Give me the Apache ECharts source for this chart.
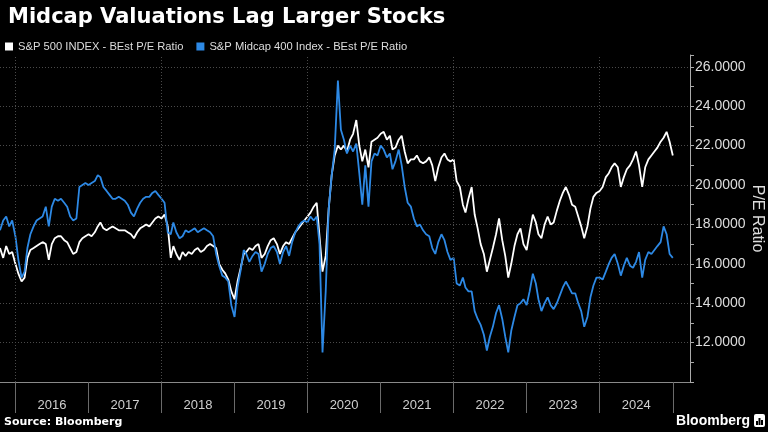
<!DOCTYPE html>
<html><head><meta charset="utf-8">
<script src="https://cdn.jsdelivr.net/npm/echarts@6/dist/echarts.min.js"></script>
<style>html,body{margin:0;padding:0;background:#000;}#c{width:768px;height:432px;}</style>
</head><body><div id="c"></div>
<script>
const chartTitle = 'Midcap Valuations Lag Larger Stocks';
const seriesNames = ['S&P 500 INDEX - BEst P/E Ratio', 'S&P Midcap 400 Index - BEst P/E Ratio'];
const yAxisName = 'P/E Ratio';
const sourceText = 'Source: Bloomberg';

// semi-monthly sampling dates (1st and 16th), Oct 16 2015 .. Jan 1 2025
const dates = [];
for (let y = 2015; y <= 2025; y++) {
  for (let m = 1; m <= 12; m++) {
    for (const d of ['01', '16']) {
      const s = y + '-' + String(m).padStart(2, '0') + '-' + d;
      if (s >= '2015-10-16' && s <= '2025-01-01') dates.push(s);
    }
  }
}

const spx = [
16.8,16.3,16.9,16.5,16.6,16.0,15.5,15.1,15.3,16.3,
16.7,16.8,16.9,17.0,17.1,17.0,16.2,17.0,17.3,17.4,
17.4,17.2,17.1,16.8,16.5,16.6,17.1,17.3,17.4,17.5,
17.4,17.6,17.9,18.1,17.8,17.7,17.8,17.9,17.8,17.7,
17.7,17.7,17.6,17.5,17.3,17.6,17.8,17.9,18.0,17.9,
18.1,18.3,18.4,18.3,18.5,17.9,16.3,16.9,16.5,16.2,
16.6,16.4,16.6,16.5,16.7,16.8,16.6,16.7,16.9,17.0,
16.9,16.8,16.0,15.7,15.5,15.2,14.6,14.2,15.1,15.8,
16.5,16.6,16.8,16.7,16.9,17.0,16.3,16.5,16.9,17.2,
17.3,17.0,16.5,16.9,17.1,17.0,17.3,17.6,17.8,18.0,
18.2,18.4,18.6,18.9,19.1,17.4,15.6,16.4,18.8,20.5,
21.5,22.0,21.8,22.0,21.7,22.3,22.6,23.3,22.0,21.2,
21.8,20.9,22.2,22.3,22.4,22.6,22.7,22.3,22.5,21.8,
21.9,22.3,22.5,21.7,21.1,21.3,21.3,21.5,21.2,21.1,
21.2,21.4,21.0,20.2,20.9,21.4,21.6,21.3,21.2,21.3,
20.2,19.9,19.0,18.6,19.3,19.9,18.5,17.8,17.0,16.5,
15.6,16.2,16.8,17.5,18.3,17.2,16.4,15.3,16.0,16.9,
17.5,17.8,17.0,16.7,17.6,18.5,18.1,17.5,17.3,18.0,
18.4,18.0,18.1,18.7,19.2,19.6,19.9,19.5,19.0,18.9,
18.4,17.9,17.3,17.9,18.8,19.4,19.6,19.7,19.9,20.4,
20.6,20.9,21.1,20.9,19.9,20.4,20.8,21.0,21.3,21.7,
21.0,19.9,20.9,21.3,21.5,21.7,21.9,22.2,22.4,22.7,
22.2,21.5
];

const mid = [
17.7,18.2,18.4,17.9,18.2,17.4,16.2,15.3,15.6,16.8,
17.5,17.9,18.2,18.3,18.4,18.9,17.9,18.9,19.3,19.2,
19.3,19.1,18.9,18.4,18.2,18.3,19.9,20.0,20.1,20.0,
20.1,20.2,20.5,20.4,19.9,19.7,19.5,19.3,19.3,19.4,
19.3,19.2,19.0,18.6,18.4,18.8,19.1,19.3,19.4,19.4,
19.6,19.7,19.5,19.3,19.1,17.6,17.5,18.1,17.6,17.3,
17.4,17.7,17.6,17.7,17.8,17.6,17.7,17.8,17.7,17.6,
17.4,16.5,15.9,15.4,15.3,15.1,13.9,13.3,14.8,15.7,
16.7,16.5,16.1,16.4,16.6,16.5,15.6,16.0,16.5,16.8,
16.9,16.6,16.0,16.6,16.9,16.4,17.1,17.6,17.9,18.1,
18.2,18.1,18.4,18.2,18.4,17.0,11.5,14.6,18.8,20.5,
21.8,25.3,22.8,22.3,21.6,22.0,21.7,22.1,20.6,19.0,
21.0,18.9,21.2,21.6,21.5,22.0,21.8,21.4,21.6,20.8,
21.2,21.8,21.0,19.9,19.1,18.9,18.3,17.9,18.0,17.7,
17.5,17.4,16.8,16.5,17.1,17.5,17.2,16.6,16.2,16.3,
15.0,14.9,15.3,14.8,14.6,14.6,13.6,13.2,12.9,12.4,
11.6,12.3,12.8,13.5,13.9,13.2,12.3,11.5,12.6,13.3,
13.9,14.0,14.2,13.9,14.6,15.5,15.0,14.2,13.6,14.0,
14.3,13.9,13.7,14.0,14.4,14.8,15.1,14.8,14.5,14.5,
14.0,13.6,12.8,13.3,14.3,14.9,15.3,15.3,15.2,15.6,
16.0,16.3,16.5,16.0,15.4,15.9,16.3,15.9,15.8,16.1,
16.6,15.3,16.2,16.6,16.5,16.7,16.9,17.1,17.9,17.5,
16.5,16.3
];

const yearTicks = [2016, 2017, 2018, 2019, 2020, 2021, 2022, 2023, 2024, 2025];
const yearLabels = [2016, 2017, 2018, 2019, 2020, 2021, 2022, 2023, 2024];
const gridYears = [2016, 2018, 2020, 2022, 2024];

const ts = (y, m, d) => new Date(y, m - 1, d).getTime();
const parseDate = s => { const p = s.split('-').map(Number); return ts(p[0], p[1], p[2]); };
const chart = echarts.init(document.getElementById('c'), null, { renderer: 'canvas' });
const gridColor = '#4a4a4a';

const option = {
  backgroundColor: '#000',
  animation: false,
  title: {
    text: chartTitle, left: 3, top: 2,
    textStyle: { color: '#fff', fontFamily: 'DejaVu Sans', fontWeight: 'bold', fontSize: 21 }
  },
  legend: {
    left: 0, top: 36, itemWidth: 8, itemHeight: 8, itemGap: 13, icon: 'rect',
    textStyle: { color: '#ddd', fontFamily: 'Liberation Sans', fontSize: 11.2 },
    data: [
      { name: seriesNames[0], itemStyle: { color: '#ffffff' } },
      { name: seriesNames[1], itemStyle: { color: '#2d89e5' } }
    ]
  },
  grid: { left: 0, right: 78, top: 55, bottom: 50, outerBoundsMode: 'none', containLabel: false },
  xAxis: {
    type: 'value', min: ts(2015, 10, 16), max: ts(2025, 3, 28), scale: true,
    axisLine: { show: true, onZero: false, lineStyle: { color: '#8a8a8a' } },
    axisTick: { show: true, length: 31, customValues: yearTicks.map(y => ts(y, 1, 1)), lineStyle: { color: '#6a6a6a' } },
    axisLabel: {
      customValues: yearLabels.map(y => ts(y, 7, 2)),
      formatter: v => String(new Date(v).getFullYear()),
      color: '#cfcfcf', fontSize: 13, margin: 17, fontFamily: 'Liberation Sans'
    },
    splitLine: { show: false }
  },
  yAxis: {
    type: 'value', position: 'right', min: 10, max: 26.6, interval: 2,
    name: yAxisName, nameLocation: 'middle', nameRotate: -90, nameGap: 59, nameMoveOverlap: false,
    nameTextStyle: { color: '#ddd', fontSize: 16, fontFamily: 'Liberation Sans' },
    axisLine: { show: true, lineStyle: { color: '#aaa' } },
    axisTick: { show: true, length: 4, lineStyle: { color: '#aaa' } },
    minorTick: { show: true, splitNumber: 2, length: 4, lineStyle: { color: '#aaa' } },
    minorSplitLine: { show: false },
    axisLabel: {
      formatter: v => (Math.abs(v - Math.round(v)) < 1e-9 && v >= 12 && v <= 26 && Math.round(v) % 2 === 0) ? v.toFixed(4) : '',
      color: '#ddd', fontSize: 14, margin: 5, fontFamily: 'Liberation Sans'
    },
    splitLine: { show: true, showMinLine: false, showMaxLine: false, lineStyle: { color: gridColor, type: [1, 2], width: 1 } }
  },
  series: [
    {
      name: seriesNames[0], type: 'line', showSymbol: false, z: 2,
      data: dates.map((d, i) => [parseDate(d), spx[i]]),
      lineStyle: { color: '#ffffff', width: 1.8 }, itemStyle: { color: '#ffffff' },
      markLine: {
        silent: true, symbol: 'none', label: { show: false },
        lineStyle: { color: gridColor, type: [1, 2], width: 1 },
        data: gridYears.map(y => ({ xAxis: ts(y, 1, 1) }))
      }
    },
    {
      name: seriesNames[1], type: 'line', showSymbol: false, z: 3,
      data: dates.map((d, i) => [parseDate(d), mid[i]]),
      lineStyle: { color: '#2d89e5', width: 1.8 }, itemStyle: { color: '#2d89e5' }
    }
  ],
  graphic: [
    { type: 'text', left: 4, top: 417, style: { text: sourceText, fill: '#fff', font: 'bold 11px "DejaVu Sans"' } },
    { type: 'text', right: 18, top: 414, style: { text: 'Bloomberg', fill: '#fff', font: 'bold 14px "Liberation Sans"' } },
    { type: 'group', right: 3, top: 414, children: [
      { type: 'rect', shape: { x: 0, y: 0, width: 11, height: 13, r: 2 }, style: { fill: '#fff' } },
      { type: 'rect', shape: { x: 2, y: 7, width: 2, height: 4 }, style: { fill: '#000' } },
      { type: 'rect', shape: { x: 4.5, y: 4, width: 2, height: 7 }, style: { fill: '#000' } },
      { type: 'rect', shape: { x: 7, y: 6, width: 2, height: 5 }, style: { fill: '#000' } }
    ] }
  ]
};
chart.setOption(option);
</script>
</body></html>
